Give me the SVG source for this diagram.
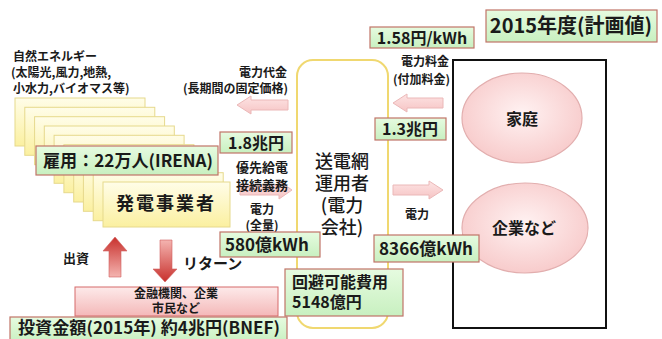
<svg xmlns="http://www.w3.org/2000/svg" width="662" height="339" viewBox="0 0 662 339">
<defs>
<linearGradient id="gY" x1="0" y1="0" x2="0" y2="1"><stop offset="0" stop-color="#fffde8"/><stop offset="1" stop-color="#fbf0a0"/></linearGradient>
<linearGradient id="gG" x1="0" y1="0" x2="0" y2="1"><stop offset="0" stop-color="#e6fbe0"/><stop offset="1" stop-color="#c8f0c0"/></linearGradient>
<linearGradient id="gP" x1="0" y1="0" x2="0" y2="1"><stop offset="0" stop-color="#fdeaea"/><stop offset="1" stop-color="#f4b8b8"/></linearGradient>
<radialGradient id="gE" cx="0.5" cy="0.45" r="0.6"><stop offset="0" stop-color="#fff2f2"/><stop offset="1" stop-color="#f7c8c8"/></radialGradient>
<linearGradient id="gUp" x1="0" y1="0" x2="0" y2="1"><stop offset="0" stop-color="#c8302c"/><stop offset="1" stop-color="#f4b4b0"/></linearGradient>
<linearGradient id="gDn" x1="0" y1="0" x2="0" y2="1"><stop offset="0" stop-color="#f4b4b0"/><stop offset="1" stop-color="#c8302c"/></linearGradient>
<linearGradient id="gA" x1="0" y1="0" x2="0" y2="1"><stop offset="0" stop-color="#fde4e4"/><stop offset="1" stop-color="#f6c4c4"/></linearGradient>
</defs>
<style>
text{font-family:"Noto Sans CJK JP","Noto Sans",sans-serif;fill:#1a1a1a;font-weight:bold}
.card{fill:url(#gY);stroke:#e6d98c;stroke-width:1}
.gbox{fill:url(#gG);stroke:#c07468;stroke-width:1.2}
.pa{fill:url(#gA);stroke:#ebb8b8;stroke-width:1}
.s12{font-size:12px}
.s13{font-size:13px}
.s16{font-size:16px}
.s17{font-size:17px}
.mid{text-anchor:middle}
.end{text-anchor:end}
.ctr{font-size:18px;font-weight:500}
</style>
<rect width="662" height="339" fill="#ffffff"/>

<g id="re-label">
<text class="s12" x="13" y="61">自然エネルギー</text>
<text class="s12" x="11" y="77">(太陽光,風力,地熱,</text>
<text class="s12" x="13" y="93">小水力,バイオマス等)</text>
</g>

<g id="generators">
<rect class="card" x="15" y="98" width="130" height="48"/>
<rect class="card" x="24.8" y="107.3" width="130" height="48"/>
<rect class="card" x="34.6" y="116.7" width="130" height="48"/>
<rect class="card" x="44.3" y="126" width="130" height="48"/>
<rect class="card" x="54.1" y="135.3" width="130" height="48"/>
<rect class="card" x="63.9" y="144.7" width="130" height="48"/>
<rect class="card" x="73.7" y="154" width="130" height="48"/>
<rect class="card" x="83.4" y="163.3" width="130" height="48"/>
<rect class="card" x="93.2" y="172.7" width="130" height="48"/>
<rect class="card" x="103" y="182" width="127" height="45"/>
<text x="166" y="210" class="mid" font-size="18" letter-spacing="2">発電事業者</text>
</g>

<g id="employment">
<rect class="gbox" x="36" y="146" width="182" height="29"/>
<text class="s17" x="43" y="167" textLength="170" lengthAdjust="spacingAndGlyphs">雇用：22万人(IRENA)</text>
</g>

<g id="grid-operator">
<rect x="297" y="60" width="91" height="268" rx="16" ry="16" fill="#ffffff" stroke="#f0d870" stroke-width="2"/>
<text x="342" y="168" class="mid ctr">送電網</text>
<text x="342" y="190" class="mid ctr">運用者</text>
<text x="342" y="212" class="mid ctr">(電力</text>
<text x="342" y="234" class="mid ctr">会社)</text>
</g>

<g id="consumers">
<rect x="453" y="60" width="153" height="268" fill="#ffffff" stroke="#111111" stroke-width="2"/>
<g id="household">
<ellipse cx="522" cy="118" rx="60" ry="45" fill="url(#gE)" stroke="#e2aeae" stroke-width="1.2"/>
<text x="522" y="125" class="mid s16">家庭</text>
</g>
<g id="companies">
<ellipse cx="525" cy="228" rx="63" ry="45" fill="url(#gE)" stroke="#e2aeae" stroke-width="1.2"/>
<text x="524" y="234" class="mid s16">企業など</text>
</g>
</g>

<g id="connectors">
<path class="pa" d="M237,105 L251,96 L251,100 L288,100 L288,110 L251,110 L251,114 Z"/>
<path class="pa" d="M292,190 L279,181 L279,185 L240,185 L240,195 L279,195 L279,199 Z"/>
<path class="pa" d="M393,103 L407,94 L407,98 L443,98 L443,108 L407,108 L407,112 Z"/>
<path class="pa" d="M443,190 L429,181 L429,185 L393,185 L393,195 L429,195 L429,199 Z"/>
<path d="M115,237 L127,251 L121,251 L121,277 L109,277 L109,251 L103,251 Z" fill="url(#gUp)" stroke="#d06060" stroke-width="0.6"/>
<path d="M165,282 L177,269 L172,269 L172,240 L160,240 L160,269 L153,269 Z" fill="url(#gDn)" stroke="#d06060" stroke-width="0.6"/>
</g>

<g id="payment-label">
<text class="s12 end" x="287" y="77">電力代金</text>
<text class="s12 end" x="288" y="93">(長期間の固定価格)</text>
</g>

<g id="fit-total">
<rect class="gbox" x="220" y="132" width="72" height="21"/>
<text class="s16 mid" x="256" y="149">1.8兆円</text>
</g>

<g id="priority-label">
<text class="s13 mid" x="262" y="172">優先給電</text>
<text class="s13 mid" x="262" y="190">接続義務</text>
<text class="s12 mid" x="262" y="214">電力</text>
<text class="s12 mid" x="262" y="230">(全量)</text>
</g>

<g id="gen-kwh">
<rect class="gbox" x="220" y="232" width="100" height="25"/>
<text class="s17" x="225" y="251">580億kWh</text>
</g>

<g id="avoided-cost">
<rect class="gbox" x="285" y="269" width="118" height="47"/>
<text class="s16" x="292" y="288">回避可能費用</text>
<text class="s16" x="292" y="308">5148億円</text>
</g>

<g id="surcharge-rate">
<rect class="gbox" x="370" y="27" width="104" height="21"/>
<text class="s16 mid" x="422" y="44">1.58円/kWh</text>
</g>

<g id="surcharge-label">
<text class="s12 end" x="449" y="66">電力料金</text>
<text class="s12 end" x="450" y="84">(付加料金)</text>
</g>

<g id="surcharge-total">
<rect class="gbox" x="375" y="118" width="71" height="22"/>
<text class="s16 mid" x="410" y="135">1.3兆円</text>
</g>

<g id="power-label">
<text class="s12 mid" x="417" y="219">電力</text>
</g>

<g id="demand-kwh">
<rect class="gbox" x="374" y="235" width="105" height="27"/>
<text class="s17 mid" x="426" y="255">8366億kWh</text>
</g>

<g id="year">
<rect class="gbox" x="486" y="10" width="171" height="32"/>
<text x="571" y="33" class="mid" font-size="20">2015年度(計画値)</text>
</g>

<g id="investment-labels">
<text class="s13" x="63" y="263">出資</text>
<text x="183" y="269" font-size="15">リターン</text>
</g>

<g id="financiers">
<rect x="75" y="287" width="203" height="29" fill="url(#gP)" stroke="#d66a6a" stroke-width="1"/>
<text class="s12 mid" x="176" y="298" font-weight="500">金融機関、企業</text>
<text class="s12 mid" x="176" y="313" font-weight="500">市民など</text>
</g>

<g id="investment">
<rect class="gbox" x="10" y="317" width="277" height="26"/>
<text x="18" y="334" font-size="16.5" textLength="262" lengthAdjust="spacingAndGlyphs">投資金額(2015年) 約4兆円(BNEF)</text>
</g>
</svg>
